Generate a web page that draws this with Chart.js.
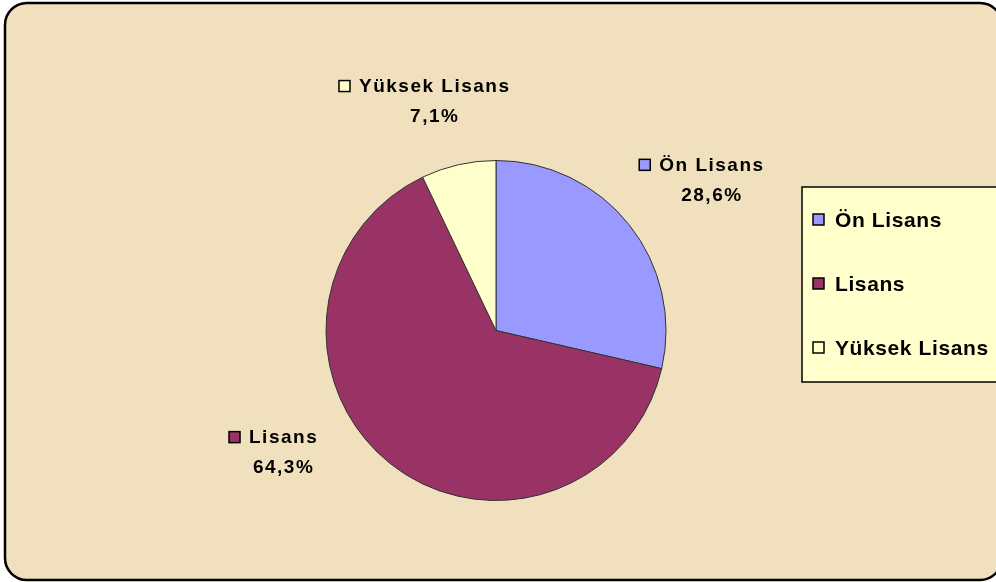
<!DOCTYPE html>
<html>
<head>
<meta charset="utf-8">
<script src="https://cdn.jsdelivr.net/npm/chart.js@4.4.1/dist/chart.umd.min.js"></script>
<style>
  html, body { margin: 0; padding: 0; background: #ffffff; }
  canvas { display: block; }
</style>
</head>
<body>
<canvas id="pieChart" width="996" height="582"></canvas>
<script>
// data ====================================
const categories = ["Ön Lisans", "Lisans", "Yüksek Lisans"];
const shares = [28.6, 64.3, 7.1];
const shareLabels = ["28,6%", "64,3%", "7,1%"];
const sliceColors = ["#9999ff", "#993366", "#ffffcc"];

// label placement around the pie (angle shift in degrees, distance past the rim)
const labelShift = [3.7, 21.4, -2.2];
const labelGap = [93, 75, 67];

const labelFont = "bold 19px 'Liberation Sans', Arial, sans-serif";
const legendFont = "bold 21px 'Liberation Sans', Arial, sans-serif";

// parchment background + rounded frame (right edge runs off the canvas)
const framePlugin = {
  id: "frame",
  beforeDraw: (chart) => {
    const ctx = chart.ctx;
    ctx.save();
    ctx.fillStyle = "#ffffff";
    ctx.fillRect(0, 0, chart.width, chart.height);
    ctx.beginPath();
    ctx.roundRect(5, 3, 997, 577, 22);
    ctx.fillStyle = "#f0e0bd";
    ctx.fill();
    ctx.lineWidth = 2.5;
    ctx.strokeStyle = "#000000";
    ctx.stroke();
    ctx.restore();
  },
};

// Excel-like data labels and legend box
const labelPlugin = {
  id: "sliceLabels",
  afterDraw: (chart) => {
    const ctx = chart.ctx;
    const arcs = chart.getDatasetMeta(0).data;
    ctx.save();
    ctx.textBaseline = "middle";
    ctx.textAlign = "left";

    arcs.forEach((arc, i) => {
      const { x, y, startAngle, endAngle, outerRadius } = arc.getProps(
        ["x", "y", "startAngle", "endAngle", "outerRadius"], true);
      const mid = (startAngle + endAngle) / 2 + (labelShift[i] * Math.PI) / 180;
      const r = outerRadius + labelGap[i];
      const cx = x + Math.cos(mid) * r;
      const cy = y + Math.sin(mid) * r;

      ctx.font = labelFont;
      ctx.letterSpacing = "1.5px";
      const nameW = ctx.measureText(categories[i]).width;
      const nameX = cx - nameW / 2;
      ctx.fillStyle = "#000000";
      ctx.fillText(categories[i], nameX, cy - 15);

      // marker
      ctx.fillStyle = sliceColors[i];
      ctx.fillRect(nameX - 20, cy - 21, 11, 11);
      ctx.lineWidth = 1.5;
      ctx.strokeStyle = "#000000";
      ctx.strokeRect(nameX - 20, cy - 21, 11, 11);

      const pctW = ctx.measureText(shareLabels[i]).width;
      ctx.fillStyle = "#000000";
      ctx.fillText(shareLabels[i], cx - pctW / 2, cy + 15);
    });

    // legend box
    ctx.fillStyle = "#ffffcc";
    ctx.fillRect(802, 187, 200, 195);
    ctx.lineWidth = 1.5;
    ctx.strokeStyle = "#000000";
    ctx.strokeRect(802, 187, 200, 195);

    ctx.font = legendFont;
    ctx.letterSpacing = "0.6px";
    categories.forEach((name, i) => {
      const iy = 220 + i * 64;
      ctx.fillStyle = sliceColors[i];
      ctx.fillRect(813, iy - 6, 11, 11);
      ctx.strokeStyle = "#000000";
      ctx.strokeRect(813, iy - 6, 11, 11);
      ctx.fillStyle = "#000000";
      ctx.fillText(name, 835, iy + 1);
    });
    ctx.restore();
  },
};

const pieCtx = document.getElementById("pieChart").getContext("2d");
new Chart(pieCtx, {
  type: "pie",
  data: {
    labels: categories,
    datasets: [
      {
        data: shares,
        backgroundColor: sliceColors,
        borderColor: "#333333",
        borderWidth: 1,
      },
    ],
  },
  options: {
    responsive: false,
    animation: false,
    layout: {
      padding: { top: 160, bottom: 81, left: 0, right: 4 },
    },
    plugins: {
      legend: { display: false },
      tooltip: { enabled: false },
    },
  },
  plugins: [framePlugin, labelPlugin],
});
</script>
</body>
</html>
